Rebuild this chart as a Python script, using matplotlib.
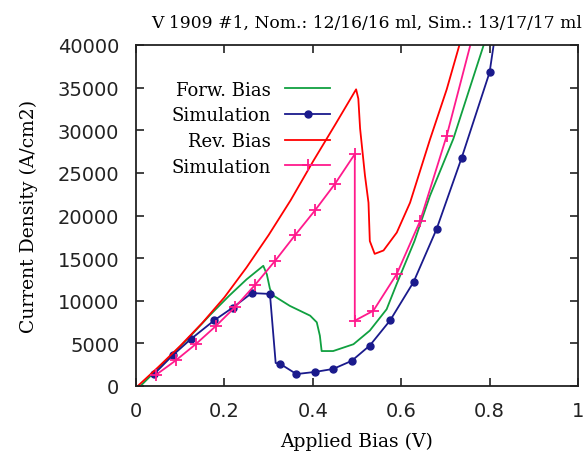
import matplotlib
matplotlib.use("Agg")
import matplotlib.pyplot as plt

# ---- data ----
fwd_v = [0.01, 0.053, 0.113, 0.167, 0.211, 0.25, 0.288, 0.296, 0.303, 0.311, 0.348, 0.394,
         0.409, 0.416, 0.420, 0.446, 0.492, 0.529, 0.567, 0.59, 0.63, 0.665, 0.718, 0.786, 0.80]
fwd_j = [0, 2200, 5300, 8300, 10600, 12500, 14100, 13100, 11400, 10600, 9400, 8250,
         7470, 5900, 4100, 4100, 4900, 6500, 9000, 12000, 17000, 22300, 29000, 39900, 42000]

fsim_v = [0.041, 0.083, 0.124, 0.177, 0.219, 0.262, 0.303, 0.316, 0.326, 0.363, 0.405, 0.446,
          0.488, 0.529, 0.575, 0.628, 0.68, 0.737, 0.80, 0.812]
fsim_j = [1400, 3600, 5500, 7700, 9200, 10900, 10800, 2700, 2600, 1400, 1650, 2000,
          2950, 4750, 7700, 12200, 18400, 26800, 36800, 41000]
fsim_marks = [0, 1, 2, 3, 4, 5, 6, 8, 9, 10, 11, 12, 13, 14, 15, 16, 17, 18]

rev_v = [0.004, 0.05, 0.1, 0.15, 0.2, 0.25, 0.3, 0.35, 0.4, 0.45, 0.498, 0.503, 0.507,
         0.518, 0.526, 0.529, 0.54, 0.56, 0.59, 0.62, 0.665, 0.703, 0.74]
rev_j = [0, 2200, 4700, 7400, 10400, 13900, 17700, 21800, 26300, 30600, 34800, 33700, 30200,
         24700, 21500, 17000, 15500, 15900, 18000, 21500, 28900, 34800, 41500]

rsim_v = [0.045, 0.09, 0.135, 0.18, 0.225, 0.27, 0.315, 0.36, 0.405, 0.45, 0.495, 0.495,
          0.537, 0.59, 0.643, 0.703, 0.765]
rsim_j = [1300, 3000, 4900, 7000, 9300, 11900, 14700, 17700, 20600, 23700, 27200, 7660,
          8830, 13140, 19390, 29360, 41700]
rsim_marks = list(range(16))

x_ticks = [0, 0.2, 0.4, 0.6, 0.8, 1]
x_tick_labels = ["0", "0.2", "0.4", "0.6", "0.8", "1"]
y_ticks = [0, 5000, 10000, 15000, 20000, 25000, 30000, 35000, 40000]

title = "V 1909 #1, Nom.: 12/16/16 ml, Sim.: 13/17/17 ml"

# ---- figure ----
fig = plt.figure(figsize=(5.85, 4.52), dpi=100)
ax = fig.add_axes([136/585, 1-387/452, (578-136)/585, (387-46)/452])

green = "#10a040"
navy = "#1a1a8c"
red = "#ff0000"
pink = "#ff1a8c"

ax.plot(fwd_v, fwd_j, color=green, lw=1.3, label="Forw. Bias")
ax.plot(fsim_v, fsim_j, color=navy, lw=1.3, marker="o", ms=5, markevery=fsim_marks,
        label="Simulation")
ax.plot(rev_v, rev_j, color=red, lw=1.3, label="Rev. Bias")
ax.plot(rsim_v, rsim_j, color=pink, lw=1.3, marker="+", ms=9, mew=1.3,
        markevery=rsim_marks, label="Simulation")

ax.set_xlim(0, 1)
ax.set_ylim(0, 40000)
ax.set_xticks(x_ticks)
ax.set_xticklabels(x_tick_labels)
ax.set_yticks(y_ticks)
ax.set_yticklabels([str(v) for v in y_ticks])
ax.tick_params(direction="in", length=6, width=1.2, top=True, right=True,
               labelsize=14, colors="#222222", pad=12)
ax.tick_params(axis="x", pad=11)
for s in ax.spines.values():
    s.set_linewidth(1.3)
    s.set_color("#222222")
for lab in ax.get_xticklabels() + ax.get_yticklabels():
    lab.set_family("DejaVu Sans")

serif = "DejaVu Serif"
ax.set_xlabel("Applied Bias (V)", family=serif, fontsize=13.5)
ax.xaxis.set_label_coords(0.5, -0.135)
ax.set_ylabel("Current Density (A/cm2)", family=serif, fontsize=13.5)
ax.yaxis.set_label_coords(-0.222, 0.5)

fig.text(582/585, 1-28/452, title, ha="right", va="baseline", family=serif, fontsize=12.3)

leg = ax.legend(loc="upper right", bbox_to_anchor=(0.44, 0.895), frameon=False,
                markerfirst=False, prop={"family": serif, "size": 13},
                handlelength=2.5, handletextpad=0.8, labelspacing=0.42,
                borderpad=0, borderaxespad=0, numpoints=1)

fig.savefig("out.png", dpi=100)
